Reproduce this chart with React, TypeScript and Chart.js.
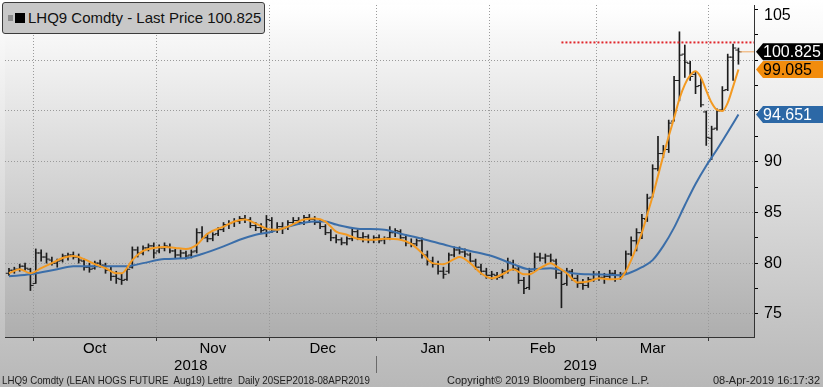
import React, { useEffect, useRef } from 'react';
import { Chart, registerables } from 'chart.js';
Chart.register(...registerables);

// ---- data (trading-day index, OHLC) ----
const opens = [
  79.0, 79.3, 79.4, 79.7, 79.4, 78.0, 81.0, 80.6, 80.3, 80.0, 80.3, 80.7, 80.8, 80.6, 80.2, 79.6, 79.5, 80.0, 79.8, 79.3,
  78.7, 78.4, 78.4, 79.6, 81.3, 81.0, 81.5, 81.7, 81.2, 81.5, 81.6, 81.2, 80.8, 81.0, 80.8, 81.2, 83.0, 82.5, 82.4, 82.9,
  83.3, 83.8, 84.0, 84.1, 84.4, 84.3, 83.7, 83.5, 83.3, 84.2, 83.3, 83.6, 83.5, 84.0, 84.2, 84.0, 84.5, 84.3, 84.0, 83.6,
  83.0, 82.5, 82.3, 82.0, 82.4, 83.1, 82.5, 82.6, 82.3, 82.5, 82.3, 82.5, 83.0, 83.1, 82.5, 82.0, 81.9, 82.2, 80.8, 80.2,
  79.9, 79.2, 79.2, 80.8, 81.3, 81.1, 80.8, 80.2, 79.6, 79.2, 78.8, 78.8, 78.7, 79.2, 80.0, 79.4, 78.3, 77.6, 79.4, 80.6,
  80.5, 80.7, 80.2, 79.0, 78.0, 79.2, 78.5, 78.0, 77.8, 78.4, 78.9, 78.6, 78.7, 79.0, 78.8, 79.0, 80.9, 82.2, 83.0, 84.3,
  86.5, 89.3, 90.8, 91.2, 94.0, 98.0, 100.6, 99.7, 98.6, 97.5, 94.9, 92.3, 93.3, 95.1, 97.1, 100.3, 101.0,
];
const highs = [
  79.5, 79.6, 79.9, 80.0, 79.5, 81.4, 81.3, 81.0, 80.6, 80.4, 80.9, 81.0, 81.1, 80.9, 80.4, 80.0, 80.2, 80.3, 80.0, 79.6,
  79.2, 78.9, 79.6, 81.6, 81.6, 81.7, 81.9, 82.0, 81.8, 82.0, 81.9, 81.4, 81.3, 81.2, 81.3, 83.4, 83.6, 82.9, 83.0, 83.5,
  84.0, 84.2, 84.4, 84.6, 84.7, 84.5, 84.0, 83.9, 84.7, 84.5, 84.0, 84.0, 84.2, 84.5, 84.5, 84.7, 84.8, 84.6, 84.3, 83.8,
  83.3, 82.8, 82.5, 82.6, 83.4, 83.3, 83.0, 82.8, 82.7, 82.8, 82.6, 83.6, 83.4, 83.3, 82.8, 82.4, 82.4, 82.5, 81.2, 80.6,
  80.2, 79.6, 81.0, 81.6, 81.6, 81.4, 81.0, 80.4, 79.9, 79.5, 79.2, 79.1, 79.4, 80.5, 80.3, 79.7, 78.6, 79.5, 81.0, 81.0,
  80.9, 80.9, 80.4, 79.3, 79.5, 79.4, 78.8, 78.4, 78.6, 79.2, 79.2, 79.0, 79.3, 79.3, 79.1, 81.2, 82.6, 83.4, 84.8, 86.8,
  89.7, 92.5, 91.6, 94.1, 98.4, 102.8, 101.5, 99.9, 98.9, 98.3, 95.0, 93.5, 95.2, 97.4, 100.6, 101.6, 101.2,
];
const lows = [
  78.8, 79.0, 79.2, 79.3, 77.3, 78.0, 80.2, 80.0, 79.8, 79.6, 80.1, 80.3, 80.4, 80.0, 79.3, 79.1, 79.4, 79.6, 79.0, 78.3,
  78.0, 77.9, 78.3, 79.5, 80.6, 80.8, 81.2, 80.5, 81.0, 81.2, 81.0, 80.5, 80.5, 80.4, 80.5, 81.0, 82.3, 82.1, 82.2, 82.7,
  83.1, 83.4, 83.6, 83.9, 84.0, 83.5, 83.2, 82.9, 82.6, 83.0, 83.0, 82.9, 83.3, 83.7, 83.8, 83.8, 84.0, 83.8, 83.4, 82.8,
  82.2, 82.0, 81.8, 81.8, 82.2, 82.3, 82.1, 82.0, 82.0, 82.0, 81.9, 82.3, 82.6, 82.3, 81.7, 81.6, 81.7, 80.5, 79.8, 79.6,
  78.9, 78.5, 79.0, 80.6, 80.9, 80.6, 80.0, 79.4, 78.9, 78.5, 78.4, 78.4, 78.5, 79.0, 79.3, 78.0, 77.0, 77.4, 79.2, 80.2,
  80.0, 80.1, 78.5, 75.6, 77.8, 78.3, 77.6, 77.4, 77.6, 78.2, 78.3, 78.0, 78.4, 78.2, 78.4, 79.0, 80.7, 81.2, 82.4, 84.1,
  86.5, 89.1, 90.4, 90.9, 94.0, 96.0, 98.3, 98.0, 96.7, 95.4, 91.6, 90.2, 93.1, 95.0, 97.0, 98.0, 99.6,
];
const closes = [
  79.3, 79.4, 79.7, 79.5, 77.8, 81.0, 80.6, 80.4, 80.0, 80.2, 80.7, 80.8, 80.6, 80.3, 79.6, 79.4, 80.0, 79.8, 79.3, 78.7,
  78.5, 78.3, 79.4, 81.3, 81.0, 81.5, 81.7, 81.0, 81.5, 81.7, 81.2, 80.8, 81.0, 80.7, 81.1, 83.0, 82.5, 82.4, 82.8, 83.3,
  83.8, 83.9, 84.1, 84.4, 84.3, 83.7, 83.5, 83.2, 84.3, 83.3, 83.6, 83.4, 84.0, 84.2, 84.0, 84.5, 84.3, 84.0, 83.6, 83.0,
  82.5, 82.3, 82.0, 82.4, 83.1, 82.5, 82.6, 82.3, 82.5, 82.2, 82.4, 83.0, 83.2, 82.5, 82.0, 81.9, 82.2, 80.8, 80.2, 79.9,
  79.2, 78.9, 80.8, 81.3, 81.1, 80.9, 80.2, 79.6, 79.2, 78.8, 78.9, 78.6, 79.2, 80.1, 79.5, 78.3, 77.5, 79.2, 80.6, 80.5,
  80.7, 80.3, 79.0, 77.9, 79.2, 78.5, 78.0, 77.8, 78.4, 78.9, 78.6, 78.7, 79.0, 78.8, 78.9, 80.9, 82.2, 83.0, 84.4, 86.4,
  89.3, 90.8, 91.2, 93.8, 98.0, 100.5, 99.8, 98.4, 97.4, 95.6, 92.4, 93.2, 95.0, 97.0, 100.3, 101.2, 100.825,
];

// moving averages: [trading-day index, value]
const fastMA: [number, number][] = [
  [0, 79.0], [2, 79.4], [4, 79.0], [6, 79.5], [8, 80.0], [10, 80.5], [12, 80.7], [14, 80.4], [16, 79.9], [18, 79.5],
  [20, 79.0], [21, 79.0], [23, 80.3], [25, 81.2], [27, 81.5], [29, 81.6], [31, 81.5], [33, 81.4], [35, 81.8], [37, 82.9],
  [40, 83.6], [42, 84.1], [44, 84.3], [46, 83.9], [48, 83.4], [50, 83.3], [52, 83.6], [54, 84.1], [55, 84.3], [57, 84.4],
  [59, 84.1], [61, 83.1], [63, 82.8], [65, 82.4], [68, 82.3], [70, 82.4], [73, 82.3], [75, 81.9], [77, 81.0], [79, 80.0],
  [81, 79.9], [83, 80.4], [84, 80.6], [86, 80.0], [88, 79.0], [90, 78.5], [92, 78.9], [94, 79.4], [96, 78.9], [97, 78.9],
  [99, 79.5], [101, 80.0], [102, 79.7], [104, 79.0], [106, 78.1], [108, 78.2], [110, 78.5], [112, 78.4], [114, 78.5],
  [115, 79.2], [116, 80.3], [117, 81.6], [118, 83.0], [119, 84.8], [120, 86.6], [121, 88.6], [122, 90.6], [123, 92.5],
  [124, 94.3], [125, 96.2], [126, 97.6], [127, 98.5], [128, 98.9], [129, 98.3], [130, 97.0], [131, 95.8], [132, 95.1],
  [133, 95.0], [134, 95.8], [135, 97.4], [136, 99.085],
];
const slowMA: [number, number][] = [
  [0, 78.7], [4, 78.9], [9, 79.4], [12, 79.7], [18, 79.7], [22, 79.7], [25, 80.0], [29, 80.4], [33, 80.5], [36, 80.9],
  [40, 81.65], [43, 82.3], [46, 82.8], [49, 83.1], [52, 83.6], [57, 84.1], [59, 84.1], [61, 83.8], [65, 83.4], [70, 83.3],
  [73, 82.9], [77, 82.4], [82, 81.7], [86, 81.2], [90, 80.7], [94, 79.9], [97, 79.4], [101, 79.5], [105, 79.0], [108, 78.9],
  [112, 78.85], [114, 78.8], [116, 79.1], [118, 79.6], [120, 80.3], [122, 81.7], [124, 83.5], [126, 85.7], [128, 87.8],
  [130, 89.6], [132, 91.2], [134, 92.9], [136, 94.651],
];

const highLevel = 101.75;
const highLineFrom = 103;

const monthLabels = ['Oct', 'Nov', 'Dec', 'Jan', 'Feb', 'Mar'];
const monthBounds = [4.5, 27.5, 48.5, 68.5, 89.5, 109.5, 130.5];
const yearLabels = ['2018', '2019'];
const yearCenters = [33.9, 106.5];
const yearSplit = 68.5;
const yTickValues = [75, 77.5, 80, 82.5, 85, 87.5, 90, 92.5, 95, 97.5, 100, 102.5, 105];

const X_MIN = -0.74;
const X_MAX = 138.9;
const Y_MIN = 72.72;
const Y_MAX = 105.44;

const legendText = 'LHQ9 Comdty - Last Price 100.825';
const footerLeft = 'LHQ9 Comdty (LEAN HOGS FUTURE  Aug19) Lettre  Daily 20SEP2018-08APR2019';
const footerMid = 'Copyright\u00a9 2019 Bloomberg Finance L.P.';
const footerRight = '08-Apr-2019 16:17:32';

const SANS = '"Liberation Sans", Arial, sans-serif';
const ORANGE = '#f39a22';
const BLUE = '#3b6ea9';
const BAR = '#1c1c1c';

const lastClose = closes[closes.length - 1];
const tagValues = [lastClose, fastMA[fastMA.length - 1][1], slowMA[slowMA.length - 1][1]];

const bgPlugin = {
  id: 'bg',
  beforeDraw(chart: any) {
    const { ctx, chartArea: a, width, height } = chart;
    ctx.save();
    let g = ctx.createLinearGradient(0, 0, 0, height);
    g.addColorStop(0, '#ffffff');
    g.addColorStop(1, '#b8b8b8');
    ctx.fillStyle = g;
    ctx.fillRect(0, 0, width, height);
    g = ctx.createLinearGradient(0, a.top, 0, a.bottom);
    g.addColorStop(0, '#ffffff');
    g.addColorStop(1, '#aeaeae');
    ctx.fillStyle = g;
    ctx.fillRect(a.left, a.top, a.right - a.left, a.bottom - a.top);
    ctx.restore();
  },
};

const tagPlugin = {
  id: 'tags',
  afterDraw(chart: any) {
    const { ctx, chartArea: a, scales, width } = chart;
    const y = scales.y;
    const x = scales.x;
    ctx.save();
    ctx.font = '16px ' + SANS;
    ctx.fillStyle = '#000';
    ctx.textAlign = 'left';
    ctx.textBaseline = 'middle';
    ctx.fillText('105', a.right + 10, y.getPixelForValue(105) + 6);
    const sx = Math.round(x.getPixelForValue(yearSplit)) + 0.5;
    ctx.strokeStyle = '#6a6a6a';
    ctx.lineWidth = 1;
    ctx.beginPath();
    ctx.moveTo(sx, a.bottom + 19);
    ctx.lineTo(sx, a.bottom + 36);
    ctx.stroke();
    const styles = [
      { bg: '#000000', fg: '#ffffff' },
      { bg: '#f28c0c', fg: '#000000' },
      { bg: '#2c68a6', fg: '#ffffff' },
    ];
    tagValues.forEach((v, k) => {
      const py = y.getPixelForValue(v);
      const h = 8.5;
      const x0 = a.right + 2;
      ctx.beginPath();
      ctx.moveTo(x0, py);
      ctx.lineTo(x0 + 7, py - h);
      ctx.lineTo(width, py - h);
      ctx.lineTo(width, py + h);
      ctx.lineTo(x0 + 7, py + h);
      ctx.closePath();
      ctx.fillStyle = styles[k].bg;
      ctx.fill();
      ctx.fillStyle = styles[k].fg;
      ctx.fillText(v.toFixed(3), a.right + 9, py + 1);
    });
    ctx.restore();
  },
};

export default function App() {
  const ref = useRef<HTMLCanvasElement>(null);
  useEffect(() => {
    if (!ref.current) return;
    const hl = closes.map((_, i) => ({ x: i, y: [lows[i], highs[i]] }));
    const op = opens.map((v, i) => ({ x: i - 0.3, y: v }));
    const cl = closes.map((v, i) => ({ x: i + 0.3, y: v }));
    const chart = new Chart(ref.current, {
      type: 'line',
      data: {
        datasets: [
          { type: 'line', data: fastMA.map(([i, v]) => ({ x: i, y: v })), borderColor: ORANGE, borderWidth: 2, pointRadius: 0, cubicInterpolationMode: 'monotone', order: 0 } as any,
          { type: 'line', data: slowMA.map(([i, v]) => ({ x: i, y: v })), borderColor: BLUE, borderWidth: 2, pointRadius: 0, cubicInterpolationMode: 'monotone', order: 1 } as any,
          { type: 'line', data: [{ x: highLineFrom, y: highLevel }, { x: X_MAX, y: highLevel }], borderColor: '#e0262b', borderWidth: 2, borderDash: [2, 2], pointRadius: 0, order: 1 } as any,
          { type: 'line', data: [{ x: closes.length - 0.7, y: lastClose }, { x: X_MAX, y: lastClose }], borderColor: '#f0a860', borderWidth: 1, pointRadius: 0, order: 1 } as any,
          { type: 'line', data: op, showLine: false, pointStyle: 'line', pointRadius: 1.6, pointBorderWidth: 1, borderColor: BAR, pointBorderColor: BAR, order: 2 } as any,
          { type: 'line', data: cl, showLine: false, pointStyle: 'line', pointRadius: 1.6, pointBorderWidth: 1, borderColor: BAR, pointBorderColor: BAR, order: 2 } as any,
          { type: 'bar', data: hl, backgroundColor: BAR, barThickness: 1, borderWidth: 0, order: 3 } as any,
        ],
      },
      options: {
        animation: false,
        responsive: false,
        maintainAspectRatio: false,
        layout: { padding: { left: 0, right: 0, top: 0, bottom: 13 } },
        plugins: { legend: { display: false }, tooltip: { enabled: false } },
        scales: {
          xg: {
            type: 'linear', position: 'bottom', weight: 0, min: X_MIN, max: X_MAX, offset: false,
            afterBuildTicks: (s: any) => { s.ticks = monthBounds.map((v) => ({ value: v })); },
            ticks: { display: false },
            grid: { color: '#9a9a9a', lineWidth: 1, drawTicks: true, tickLength: 4, tickColor: '#333', offset: false },
            border: { display: true, color: '#333', width: 1, dash: [1, 2] },
            afterFit: (s: any) => { s.height = 4; s.paddingLeft = 0; s.paddingRight = 0; },
          },
          x: {
            type: 'linear', position: 'bottom', weight: 1, min: X_MIN, max: X_MAX, offset: false,
            afterBuildTicks: (s: any) => { s.ticks = monthBounds.slice(0, -1).map((b, k) => ({ value: (b + monthBounds[k + 1]) / 2 })); },
            ticks: { callback: (_v: any, k: number) => monthLabels[k], autoSkip: false, maxRotation: 0, padding: 0, color: '#000', font: { family: SANS, size: 15, lineHeight: 1 } },
            grid: { display: false, drawTicks: false, offset: false },
            border: { display: false },
            afterFit: (s: any) => { s.height = 17; s.paddingLeft = 0; s.paddingRight = 0; },
          },
          x2: {
            type: 'linear', position: 'bottom', weight: 2, min: X_MIN, max: X_MAX, offset: false,
            afterBuildTicks: (s: any) => { s.ticks = yearCenters.map((v) => ({ value: v })); },
            ticks: { callback: (_v: any, k: number) => yearLabels[k], autoSkip: false, maxRotation: 0, padding: 0, color: '#000', font: { family: SANS, size: 15, lineHeight: 1 } },
            grid: { display: false, drawTicks: false },
            border: { display: false },
            afterFit: (s: any) => { s.height = 16; s.paddingLeft = 0; s.paddingRight = 0; },
          },
          y: {
            type: 'linear', position: 'right', min: Y_MIN, max: Y_MAX, beginAtZero: false,
            afterBuildTicks: (s: any) => { s.ticks = yTickValues.map((v) => ({ value: v })); },
            ticks: {
              callback: (v: any) => (v % 5 === 0 && v !== 105 && !tagValues.some((t) => Math.abs(t - v) < 1.2) ? String(v) : ''),
              padding: 6, color: '#000', font: { family: SANS, size: 16 },
            },
            grid: {
              color: (c: any) => (c.tick && c.tick.value % 5 === 0 && c.tick.value !== 105 ? '#9a9a9a' : 'rgba(0,0,0,0)'),
              drawTicks: true, tickLength: 4, tickColor: '#000',
            },
            border: { display: true, color: '#333', width: 1, dash: [1, 2] },
            afterFit: (s: any) => { s.width = 69; s.paddingTop = 0; s.paddingBottom = 0; },
          },
        },
      } as any,
      plugins: [bgPlugin, tagPlugin],
    });
    return () => chart.destroy();
  }, []);

  const foot = { position: 'absolute' as const, top: 373, fontFamily: SANS, fontSize: 11, lineHeight: '14px', color: '#222', whiteSpace: 'pre' as const };
  return (
    <div style={{ position: 'fixed', left: 0, top: 0, width: 823, height: 387, overflow: 'hidden' }}>
      <canvas ref={ref} width={823} height={387} style={{ width: 823, height: 387, display: 'block' }} />
      <div style={{ position: 'absolute', left: 2, top: 2, width: 261, height: 30, background: '#c8c8c8', border: '1px solid #3c3c3c', borderRadius: 3, boxSizing: 'content-box' }}>
        <div style={{ position: 'absolute', left: 5, top: 12, width: 5, height: 6, background: '#8c8c8c' }} />
        <div style={{ position: 'absolute', left: 12, top: 10, width: 10, height: 10, background: '#000' }} />
        <div style={{ position: 'absolute', left: 25, top: 6, fontFamily: SANS, fontSize: 15, lineHeight: '18px', color: '#111', whiteSpace: 'nowrap' }}>{legendText}</div>
      </div>
      <div style={{ ...foot, left: 2, transform: 'scaleX(0.885)', transformOrigin: '0 0' }}>{footerLeft}</div>
      <div style={{ ...foot, left: 447 }}>{footerMid}</div>
      <div style={{ ...foot, right: 3 }}>{footerRight}</div>
    </div>
  );
}
